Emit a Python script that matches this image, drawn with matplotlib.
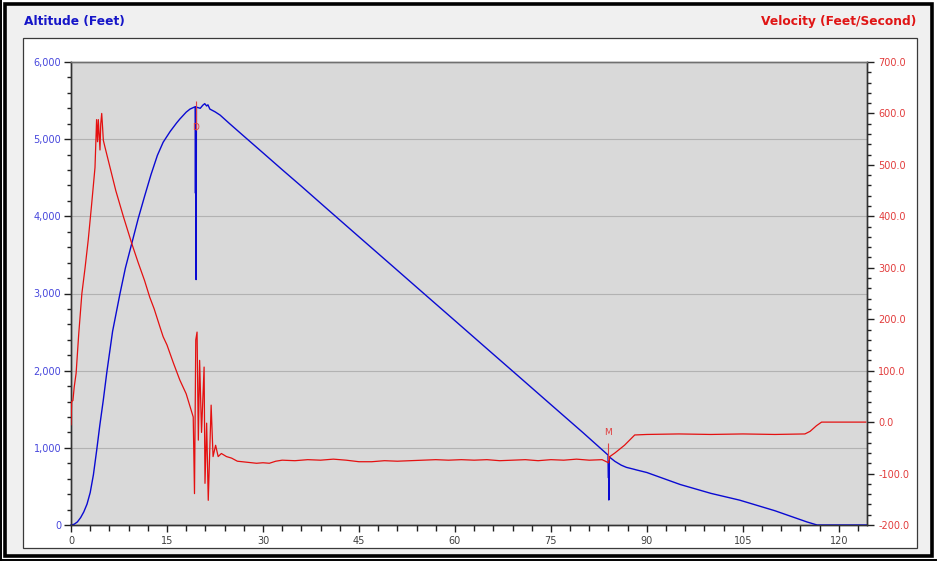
import matplotlib
matplotlib.use("Agg")
import matplotlib.pyplot as plt
from matplotlib.patches import Rectangle
from matplotlib.lines import Line2D
from matplotlib.ticker import MultipleLocator, FuncFormatter

# ---------------- data ----------------
alt_time = [0, 0.5, 1.0, 1.5, 2.0, 2.5, 3.0, 3.5, 4.0, 4.5, 5.05, 5.6, 6.5, 7.66, 8.5,
            9.5, 10.5, 11.5, 12.5, 13.5, 14.4, 15.5, 16.5, 17.0, 18.0, 18.6, 19.4,
            19.45, 19.5, 19.55, 19.6, 20.2, 20.6, 20.9, 21.2, 21.4, 21.7, 22.5, 23.3,
            24.8, 27, 30, 33, 36, 40, 45, 50, 55, 60, 65, 70, 75, 80, 83.95, 84.0,
            84.02, 84.05, 84.08, 85, 86, 86.8, 88, 88.4, 90, 95.2, 100, 104.5, 110,
            115, 116.6, 124.4]
altitude = [0, 10, 40, 95, 170, 270, 420, 650, 960, 1290, 1620, 1980, 2510, 3000, 3330,
            3650, 3970, 4260, 4540, 4790, 4960, 5100, 5210, 5260, 5350, 5390, 5420,
            4300, 5420, 3180, 5415, 5400, 5440, 5460, 5430, 5445, 5390, 5355, 5312,
            5200, 5040, 4823, 4605, 4390, 4098, 3735, 3373, 3010, 2648, 2285, 1923,
            1560, 1198, 905, 610, 890, 324, 885, 825, 775, 747, 722, 713, 680, 525,
            410, 322, 185, 40, 0, 0]

vel_time = [0, 0.1, 0.3, 0.5, 0.8, 1.2, 1.7, 2.2, 2.7, 3.2, 3.75, 4.0, 4.15, 4.27, 4.4,
            4.53, 4.65, 4.8, 4.95, 5.05, 5.3, 6.0, 7.0, 8.2, 9.5, 10.5, 11.5, 12.3,
            13.0, 13.9, 14.4, 15.0, 16.0, 17.0, 18.0, 19.1, 19.3, 19.5, 19.7, 19.9,
            20.1, 20.4, 20.8, 20.94, 21.2, 21.45, 21.9, 22.2, 22.6, 23.0, 23.5, 24.3,
            25.1, 26, 27.5, 29, 30, 31, 32, 33, 35, 37, 39, 41, 43, 45, 47, 49, 51, 53,
            55, 57, 59, 61, 63, 65, 67, 69, 71, 73, 75, 77, 79, 81, 83, 84.0, 84.2, 85,
            85.5, 86.5, 87.3, 88.1, 90, 95, 100, 105, 110, 114.7, 115.5, 116.5, 117.3,
            124.2]
velocity = [-5, 40, 42, 68, 95, 170, 250, 300, 355, 420, 495, 588, 545, 588, 560,
            529, 580, 600, 570, 548, 535, 500, 450, 399, 347, 310, 275, 243,
            220, 185, 166, 150, 115, 82, 55, 10, -139, 160, 175, -35,
            120, -20, 107, -119, -2, -152, 33, -67, -45, -67, -61, -67,
            -70, -76, -78, -80, -79, -80, -76, -74, -75, -73, -74, -72, -74, -77, -77,
            -75, -76, -75, -74, -73, -74, -73, -74, -73, -75, -74, -73, -75, -73, -74,
            -72, -74, -73, -79, -67, -60, -55, -45, -35, -25, -24, -23, -24, -23, -24,
            -23, -18, -7, 0, 0]

event_labels = ["D", "M"]
event_times = [19.5, 84.0]

x_ticks = [0, 15, 30, 45, 60, 75, 90, 105, 120]

left_title = "Altitude (Feet)"
right_title = "Velocity (Feet/Second)"

# ---------------- figure ----------------
W, H = 938, 561
fig = plt.figure(figsize=(W / 100, H / 100), dpi=100, facecolor="white")


def fx(x):
    return x / W


def fy(y):
    return 1 - y / H


def prect(x0, y0, x1, y1, **kw):
    r = Rectangle((fx(x0), fy(y1)), (x1 - x0) / W, (y1 - y0) / H,
                  transform=fig.transFigure, **kw)
    fig.patches.append(r)


# panel and frame (all below the axes)
prect(6, 5, 931, 555, facecolor="#f0f0f0", edgecolor="none", zorder=-5)
prect(4.5, 3.5, 931.5, 555.5, facecolor="none", edgecolor="black", linewidth=2.6, zorder=-4)
fig.lines.append(Line2D([fx(1), fx(1)], [fy(0), fy(561)], transform=fig.transFigure,
                        color="black", linewidth=1.4, zorder=-4))
fig.lines.append(Line2D([fx(0), fx(936)], [fy(559.5), fy(559.5)], transform=fig.transFigure,
                        color="black", linewidth=1.4, zorder=-4))
prect(23, 38, 917, 548, facecolor="white", edgecolor="#3a3a3a", linewidth=0.9, zorder=-3)

fig.text(fx(24), fy(22), left_title, color="#1515c8", fontsize=8.8, fontweight="bold",
         family="DejaVu Sans", ha="left", va="center")
fig.text(fx(916), fy(22), right_title, color="#e01515", fontsize=8.8, fontweight="bold",
         family="DejaVu Sans", ha="right", va="center")

ax = fig.add_axes([fx(71), fy(525), (867 - 71) / W, (525 - 62) / H])
ax.set_facecolor("#d9d9d9")
ax.set_xlim(0, 124.4)
ax.set_ylim(0, 6000)

ax2 = ax.twinx()
ax2.set_ylim(-200, 700)
ax2.patch.set_visible(False)

# grid from left axis
for g in [1000, 2000, 3000, 4000, 5000]:
    ax.axhline(g, color="#b2b2b2", linewidth=0.8, zorder=0.5)

# lines
ax.plot(alt_time, altitude, color="#0a0ad2", linewidth=1.0, zorder=3, clip_on=False)
ax2.plot(vel_time, velocity, color="#e41010", linewidth=0.9, zorder=3)

# event markers
# D : apogee marker on altitude trace
ax.vlines(event_times[0], 5120, 5490, color="#e04040", linewidth=0.8, zorder=4)
ax.text(event_times[0], 5150, event_labels[0], color="#e04040", fontsize=6.5,
        ha="center", va="center", zorder=5)
# M : main deploy marker on velocity trace
ax2.vlines(event_times[1] - 0.05, -74, -41, color="#e04040", linewidth=0.8, zorder=4)
ax2.text(event_times[1] - 0.05, -21, event_labels[1], color="#e04040", fontsize=6.5,
         ha="center", va="center", zorder=5)

# ticks / spines
ax.set_xticks(x_ticks)
ax.xaxis.set_minor_locator(MultipleLocator(3))
ax.yaxis.set_major_locator(MultipleLocator(1000))
ax.yaxis.set_minor_locator(MultipleLocator(200))
ax.yaxis.set_major_formatter(FuncFormatter(lambda v, p: f"{int(v):,}"))
ax2.yaxis.set_major_locator(MultipleLocator(100))
ax2.yaxis.set_minor_locator(MultipleLocator(20))
ax2.yaxis.set_major_formatter(FuncFormatter(lambda v, p: f"{v:.1f}"))

ax.tick_params(axis="x", which="major", direction="out", length=5, width=1, color="#202020",
               labelsize=7, labelcolor="#404040", pad=3)
ax.tick_params(axis="x", which="minor", direction="out", length=4, width=1, color="#202020")
ax.tick_params(axis="y", which="major", direction="out", length=5, width=1, color="#202020",
               labelsize=7, labelcolor="#4646dc", pad=2)
ax.tick_params(axis="y", which="minor", direction="out", length=3, width=1, color="#202020")
ax2.tick_params(axis="y", which="major", direction="out", length=5, width=1, color="#202020",
                labelsize=7, labelcolor="#e23c3c", pad=3)
ax2.tick_params(axis="y", which="minor", direction="out", length=3, width=1, color="#202020")

for a in (ax, ax2):
    for lbl in a.get_xticklabels() + a.get_yticklabels():
        lbl.set_family("DejaVu Sans")
    for s in a.spines.values():
        s.set_color("#333333")
        s.set_linewidth(1.0)
ax.spines["top"].set_color("#707070")
ax2.spines["top"].set_color("#707070")

fig.savefig("out.png", dpi=100, facecolor=fig.get_facecolor())
